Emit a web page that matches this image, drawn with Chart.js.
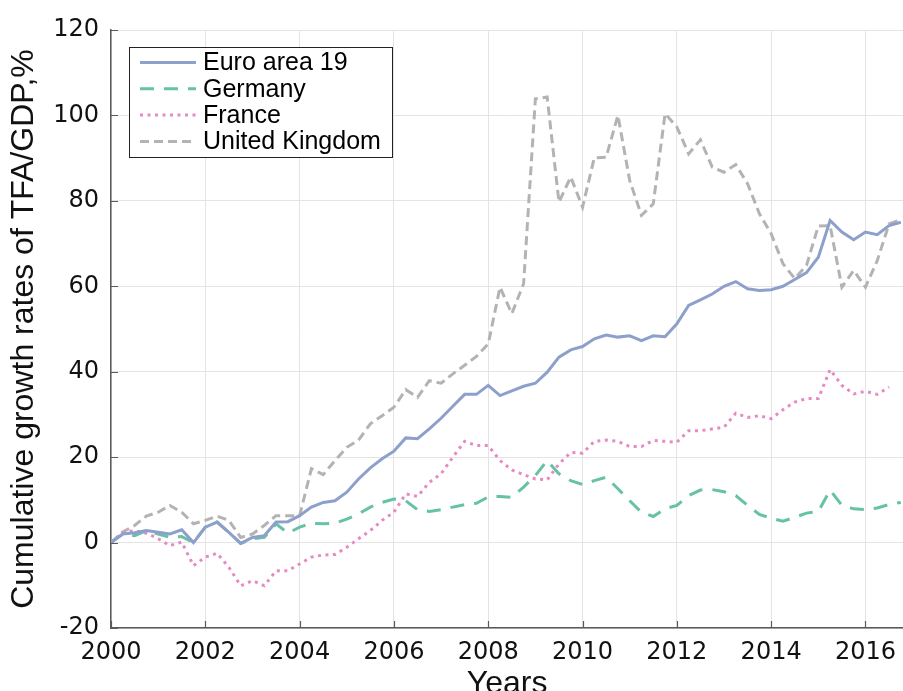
<!DOCTYPE html>
<html>
<head>
<meta charset="utf-8">
<script src="https://cdn.jsdelivr.net/npm/chart.js@4"></script>
<style>
  html, body { margin: 0; padding: 0; overflow: hidden; background: #fff; }
  canvas { display: block; }
</style>
</head>
<body>
<canvas id="chart" width="906" height="712"></canvas>
<script>
// Quarterly cumulative growth of TFA/GDP (%), 2000Q1 onwards
const startYear = 2000;
const quarterStep = 0.25;

const seriesNames = ["Euro area 19", "Germany", "France", "United Kingdom"];

const euroArea = [
  0, 2.0, 2.3, 2.8, 2.4, 2.0, 3.0, 0, 3.6, 4.8, 2.4, -0.2, 1.2, 1.6, 4.8, 4.9,
  6.3, 8.3, 9.4, 9.8, 11.8, 14.9, 17.5, 19.6, 21.4, 24.5, 24.3, 26.6, 29.1, 31.9, 34.7, 34.7,
  36.8, 34.4, 35.5, 36.6, 37.3, 39.9, 43.4, 45.1, 45.9, 47.7, 48.6, 48.1, 48.4, 47.3, 48.4, 48.2,
  51.2, 55.5, 56.8, 58.2, 60.0, 61.1, 59.4, 59.0, 59.2, 60.0, 61.6, 63.2, 66.8, 75.4, 72.7, 70.9,
  72.7, 72.1, 74.2, 75.0
];

const germany = [
  0, 2.0, 1.6, 2.8, 2.0, 1.2, 1.4, 0, 3.6, 4.8, 2.4, -0.2, 0.9, 1.2, 4.4, 2.2,
  3.6, 4.5, 4.4, 4.5, 5.5, 6.7, 8.3, 9.4, 10.2, 9.8, 7.7, 7.3, 7.7, 8.3, 8.9, 9.2,
  10.7, 10.8, 10.6, 13.0, 15.7, 19.2, 16.1, 14.5, 13.6, 14.5, 15.3, 12.6, 9.8, 7.1, 6.1, 7.9,
  8.7, 11.0, 12.3, 12.4, 11.9, 11.0, 8.7, 6.6, 5.7, 5.0, 5.9, 6.9, 7.3, 12.3, 8.7, 7.9,
  7.7, 8.1, 8.9, 9.4
];

const france = [
  0, 2.4, 2.8, 2.2, 0.9, -0.7, 0.1, -5.4, -3.4, -2.5, -5.8, -10.1, -8.9, -10.1, -6.6, -6.6,
  -5.0, -3.4, -2.9, -2.8, -1.1, 0.9, 2.8, 5.2, 7.1, 11.4, 10.8, 14.1, 16.1, 20.0, 23.7, 22.7,
  22.7, 19.2, 17.0, 15.9, 14.9, 14.7, 18.4, 21.1, 20.9, 23.7, 24.0, 23.7, 22.5, 22.5, 23.9, 23.7,
  23.5, 26.2, 26.2, 26.6, 27.0, 30.3, 29.3, 29.7, 29.0, 31.1, 32.9, 33.7, 33.7, 40.5, 36.8, 34.8,
  35.4, 34.7, 36.4
];

const unitedKingdom = [
  0, 2.5, 4.0, 6.2, 7.1, 8.7, 7.1, 4.4, 5.2, 6.2, 5.2, 1.2, 2.0, 4.0, 6.3, 6.3,
  6.3, 17.3, 15.9, 19.2, 22.3, 24.0, 27.8, 29.7, 31.7, 35.8, 34.0, 37.9, 37.3, 39.5, 41.5, 43.6,
  46.5, 59.8, 53.6, 60.6, 103.9, 104.3, 79.7, 85.6, 78.5, 90.1, 90.2, 100.0, 84.8, 76.6, 79.3, 100.4,
  97.3, 91.0, 94.3, 87.9, 86.7, 88.5, 84.0, 77.0, 72.3, 65.3, 61.8, 64.9, 74.1, 74.2, 59.8, 63.7,
  59.8, 66.0, 74.6, 75.6
];

const xTicks = [2000, 2002, 2004, 2006, 2008, 2010, 2012, 2014, 2016];
const yTicks = [-20, 0, 20, 40, 60, 80, 100, 120];

const FONT = "'Liberation Sans', Arial, Helvetica, sans-serif";
const TICK_FONT = "'DejaVu Sans', Verdana, sans-serif";
const AXIS = "#5a5a5a";
const GRID = "#e4e4e4";

function points(values) {
  return values.map((v, i) => ({ x: startYear + i * quarterStep, y: v }));
}

// legend drawn inside the plot, top-left, boxed
const insideLegend = {
  id: "insideLegend",
  afterDraw(chart) {
    const { ctx, chartArea } = chart;
    const left = chartArea.left + 18;
    const top = chartArea.top + 17;
    const w = 263, h = 110, row = 26.3;
    ctx.save();
    ctx.fillStyle = "#fff";
    ctx.fillRect(left, top, w, h);
    ctx.strokeStyle = "#222";
    ctx.lineWidth = 1;
    ctx.strokeRect(left + 0.5, top + 0.5, w, h);
    ctx.font = `25px ${FONT}`;
    ctx.textBaseline = "middle";
    chart.data.datasets.forEach((ds, i) => {
      const y = top + 15.5 + i * row;
      ctx.strokeStyle = ds.borderColor;
      ctx.lineWidth = ds.borderWidth;
      ctx.setLineDash(ds.borderDash || []);
      ctx.beginPath();
      ctx.moveTo(left + 11, y);
      ctx.lineTo(left + 67, y);
      ctx.stroke();
      ctx.setLineDash([]);
      ctx.fillStyle = "#000";
      ctx.fillText(ds.label, left + 74, y + 1);
    });
    ctx.restore();
  }
};

// short tick marks pointing into the plot
const innerTicks = {
  id: "innerTicks",
  afterDatasetsDraw(chart) {
    const { ctx, chartArea, scales } = chart;
    ctx.save();
    ctx.strokeStyle = AXIS;
    ctx.lineWidth = 1.2;
    ctx.beginPath();
    scales.y.ticks.forEach((t) => {
      const py = Math.round(scales.y.getPixelForValue(t.value)) + 0.5;
      ctx.moveTo(chartArea.left, py);
      ctx.lineTo(chartArea.left + 7, py);
    });
    scales.x.ticks.forEach((t) => {
      const px = Math.round(scales.x.getPixelForValue(t.value)) + 0.5;
      ctx.moveTo(px, chartArea.bottom);
      ctx.lineTo(px, chartArea.bottom - 7);
    });
    ctx.stroke();
    ctx.restore();
  }
};

new Chart(document.getElementById("chart"), {
  type: "line",
  data: {
    datasets: [
      { label: seriesNames[0], data: points(euroArea), borderColor: "#8da0cb", borderWidth: 3 },
      { label: seriesNames[1], data: points(germany), borderColor: "#66c2a5", borderWidth: 3, borderDash: [14, 10] },
      { label: seriesNames[2], data: points(france), borderColor: "#e78ac3", borderWidth: 3, borderDash: [3, 4.5] },
      { label: seriesNames[3], data: points(unitedKingdom), borderColor: "#b3b3b3", borderWidth: 3, borderDash: [9, 5] }
    ]
  },
  options: {
    responsive: false,
    animation: false,
    events: [],
    layout: { padding: { top: 30, right: 0, left: 0, bottom: 0 } },
    elements: { point: { radius: 0 }, line: { tension: 0, fill: false } },
    plugins: { legend: { display: false }, tooltip: { enabled: false } },
    scales: {
      x: {
        type: "linear",
        min: 2000,
        max: 2016.8,
        afterBuildTicks: (s) => { s.ticks = xTicks.map((v) => ({ value: v })); },
        afterFit: (s) => { s.height = 84; },
        grid: { color: GRID, drawTicks: false },
        border: { color: AXIS, width: 1.5 },
        ticks: { padding: 10, color: "#111", font: { family: TICK_FONT, size: 24 }, callback: (v) => String(v), maxRotation: 0 },
        title: { display: true, text: "Years", color: "#111", font: { family: FONT, size: 32 }, padding: { top: 0, bottom: 9 } }
      },
      y: {
        min: -20,
        max: 120,
        afterBuildTicks: (s) => { s.ticks = yTicks.map((v) => ({ value: v })); },
        afterFit: (s) => { s.width = 111; },
        grid: { color: GRID, drawTicks: false },
        border: { color: AXIS, width: 1.5 },
        ticks: { padding: 12, color: "#111", font: { family: TICK_FONT, size: 24 } },
        title: { display: true, text: "Cumulative growth rates of TFA/GDP,%", color: "#111", font: { family: FONT, size: 32 }, padding: { top: 5, bottom: 0 } }
      }
    }
  },
  plugins: [innerTicks, insideLegend]
});
</script>
</body>
</html>
